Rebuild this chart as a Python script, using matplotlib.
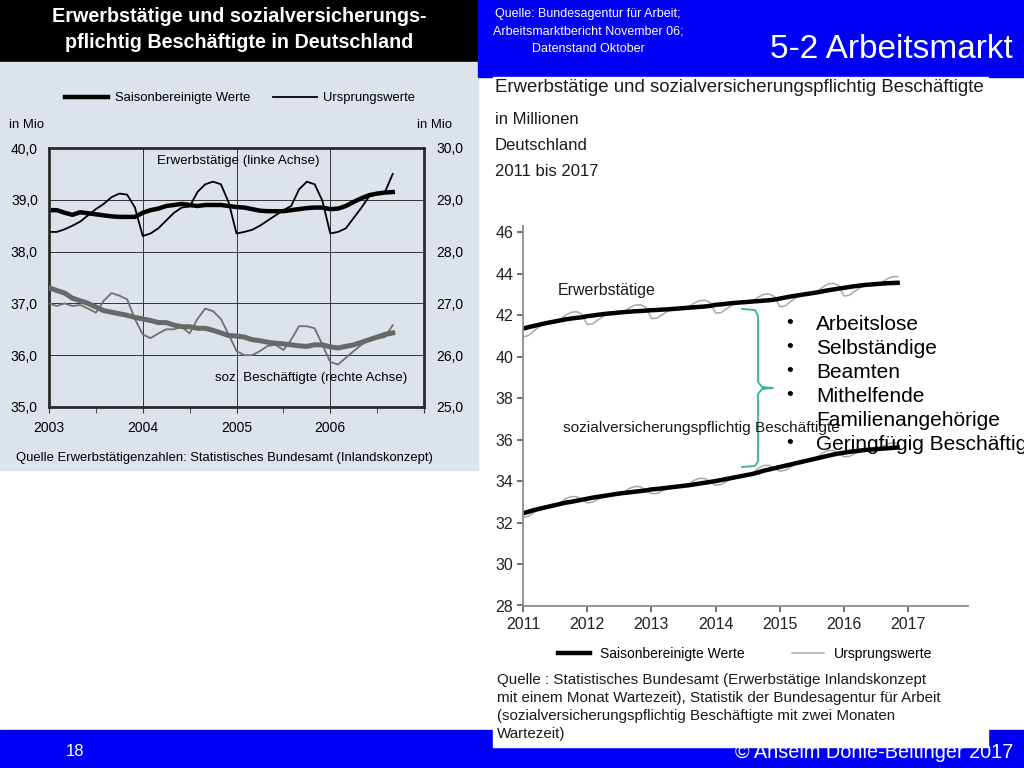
import numpy as np
import matplotlib.pyplot as plt
from matplotlib.patches import Rectangle
from matplotlib.lines import Line2D

plt.rcParams['font.family'] = ['Liberation Sans', 'DejaVu Sans']

# ---- left chart (2003 - Sep 2006, monthly), values in Mio
erw_sa_0306 = [38.80, 38.80, 38.75, 38.71, 38.76, 38.74, 38.72, 38.70, 38.68, 38.67, 38.67, 38.67,
               38.75, 38.80, 38.83, 38.88, 38.90, 38.92, 38.90, 38.88, 38.90, 38.90, 38.90, 38.88,
               38.86, 38.85, 38.82, 38.79, 38.78, 38.78, 38.78, 38.80, 38.82, 38.84, 38.85, 38.85,
               38.82, 38.83, 38.88, 38.96, 39.03, 39.09, 39.12, 39.14, 39.15]
erw_orig_0306 = [38.38, 38.38, 38.43, 38.50, 38.58, 38.70, 38.82, 38.92, 39.05, 39.12, 39.10, 38.85,
                 38.30, 38.35, 38.45, 38.60, 38.75, 38.85, 38.87, 39.15, 39.30, 39.35, 39.30, 38.95,
                 38.35, 38.38, 38.42, 38.50, 38.60, 38.70, 38.80, 38.88, 39.20, 39.35, 39.30, 38.98,
                 38.35, 38.38, 38.45, 38.65, 38.85, 39.07, 39.12, 39.15, 39.50]
soz_sa_0306 = [27.30, 27.25, 27.20, 27.10, 27.05, 27.00, 26.93, 26.86, 26.83, 26.80, 26.77, 26.73,
               26.70, 26.67, 26.63, 26.63, 26.58, 26.55, 26.55, 26.52, 26.52, 26.48, 26.43, 26.38,
               26.37, 26.35, 26.30, 26.28, 26.25, 26.23, 26.22, 26.20, 26.18, 26.17, 26.20, 26.20,
               26.16, 26.14, 26.17, 26.20, 26.25, 26.30, 26.35, 26.40, 26.43]
soz_orig_0306 = [27.00, 26.95, 27.00, 26.95, 26.97, 26.90, 26.82, 27.05, 27.20, 27.15, 27.08, 26.70,
                 26.40, 26.33, 26.42, 26.50, 26.50, 26.55, 26.42, 26.70, 26.90, 26.85, 26.70, 26.40,
                 26.08, 26.00, 26.00, 26.08, 26.18, 26.20, 26.10, 26.30, 26.56, 26.56, 26.52, 26.20,
                 25.87, 25.82, 25.95, 26.08, 26.20, 26.30, 26.32, 26.35, 26.58]
years_left = [2003, 2004, 2005, 2006]
left_ticks = [35, 36, 37, 38, 39, 40]

# ---- right chart (Jan 2011 - Nov 2016, monthly), values in Millionen
erw_sa_1116 = [41.35, 41.42, 41.48, 41.54, 41.60, 41.65, 41.70, 41.75, 41.80, 41.84, 41.87, 41.90,
               41.95, 41.98, 42.02, 42.05, 42.08, 42.10, 42.13, 42.15, 42.17, 42.19, 42.20, 42.22,
               42.24, 42.25, 42.27, 42.28, 42.30, 42.32, 42.34, 42.36, 42.38, 42.40, 42.42, 42.45,
               42.50, 42.52, 42.55, 42.58, 42.60, 42.62, 42.64, 42.66, 42.68, 42.70, 42.72, 42.75,
               42.80, 42.85, 42.90, 42.94, 42.98, 43.02, 43.06, 43.10, 43.15, 43.20, 43.24, 43.28,
               43.32, 43.36, 43.40, 43.43, 43.46, 43.48, 43.50, 43.52, 43.54, 43.55, 43.56]
erw_orig_1116 = [40.95, 41.02, 41.23, 41.44, 41.60, 41.70, 41.70, 41.80, 42.00, 42.14, 42.17, 42.05,
                 41.55, 41.58, 41.77, 41.95, 42.08, 42.15, 42.13, 42.20, 42.37, 42.49, 42.50, 42.37,
                 41.84, 41.85, 42.02, 42.18, 42.30, 42.37, 42.34, 42.41, 42.58, 42.70, 42.72, 42.60,
                 42.10, 42.12, 42.30, 42.48, 42.60, 42.67, 42.64, 42.71, 42.88, 43.00, 43.02, 42.90,
                 42.40, 42.45, 42.65, 42.84, 42.98, 43.07, 43.06, 43.15, 43.35, 43.50, 43.54, 43.43,
                 42.92, 42.96, 43.15, 43.33, 43.46, 43.53, 43.50, 43.57, 43.74, 43.85, 43.86]
soz_sa_1116 = [32.45, 32.52, 32.60, 32.66, 32.72, 32.78, 32.84, 32.90, 32.96, 33.00, 33.05, 33.10,
               33.15, 33.20, 33.24, 33.28, 33.32, 33.36, 33.40, 33.43, 33.46, 33.49, 33.52, 33.55,
               33.60, 33.62, 33.65, 33.68, 33.71, 33.74, 33.77, 33.80, 33.84, 33.88, 33.92, 33.96,
               34.00, 34.05, 34.10, 34.15, 34.20, 34.25, 34.30, 34.35, 34.42, 34.50, 34.56, 34.62,
               34.68, 34.74, 34.80, 34.86, 34.92, 34.98, 35.04, 35.10, 35.16, 35.22, 35.28, 35.33,
               35.37, 35.41, 35.44, 35.47, 35.50, 35.52, 35.54, 35.56, 35.58, 35.60, 35.62]
soz_orig_1116 = [32.25, 32.30, 32.48, 32.61, 32.72, 32.80, 32.82, 32.95, 33.16, 33.25, 33.25, 33.10,
                 32.95, 32.98, 33.12, 33.23, 33.32, 33.38, 33.38, 33.48, 33.66, 33.74, 33.72, 33.55,
                 33.40, 33.40, 33.53, 33.63, 33.71, 33.76, 33.75, 33.85, 34.04, 34.13, 34.12, 33.96,
                 33.80, 33.83, 33.98, 34.10, 34.20, 34.27, 34.28, 34.40, 34.62, 34.75, 34.76, 34.62,
                 34.48, 34.52, 34.68, 34.81, 34.92, 35.00, 35.02, 35.15, 35.36, 35.47, 35.48, 35.33,
                 35.17, 35.19, 35.32, 35.42, 35.50, 35.54, 35.52, 35.61, 35.78, 35.85, 35.82]
years_right = [2011, 2012, 2013, 2014, 2015, 2016, 2017]
right_ticks = [28, 30, 32, 34, 36, 38, 40, 42, 44, 46]

bullets = ['Arbeitslose', 'Selbständige', 'Beamten', 'Mithelfende', 'Familienangehörige',
           'Geringfügig Beschäftigte']
bullet_marks = [True, True, True, True, False, True]

quelle_lines = ['Quelle : Statistisches Bundesamt (Erwerbstätige Inlandskonzept',
                'mit einem Monat Wartezeit), Statistik der Bundesagentur für Arbeit',
                '(sozialversicherungspflichtig Beschäftigte mit zwei Monaten',
                'Wartezeit)']

BLUE = '#0000f5'
PANEL = '#dde3ea'

W, H = 1024, 768
def fx(x):
    return x / W
def fy(y):
    return 1 - y / H

fig = plt.figure(figsize=(10.24, 7.68), dpi=100)
fig.patch.set_facecolor('white')

# background blocks
fig.add_artist(Rectangle((0, fy(62)), fx(478), 62 / H, color='black', zorder=0.1))
fig.add_artist(Rectangle((0, fy(470)), fx(478), 408 / H, color=PANEL, zorder=0.1))
fig.add_artist(Rectangle((fx(478), fy(77)), 1 - fx(478), 77 / H, color=BLUE, zorder=0.1))
fig.add_artist(Rectangle((0, 0), 1, 38 / H, color=BLUE, zorder=0.1))
fig.text(fx(75), fy(751), '18', color='white', fontsize=12, ha='center', va='center', zorder=0.2)
fig.text(fx(1013), fy(752), '© Anselm Dohle-Beltinger 2017', color='white', fontsize=14.3,
         ha='right', va='center', zorder=0.2)
fig.add_artist(Rectangle((fx(493), fy(747)), fx(988) - fx(493), 670 / H, color='white', zorder=0.3))

# header texts
fig.text(fx(239), fy(17), 'Erwerbstätige und sozialversicherungs-', color='white',
         fontsize=14.2, fontweight='bold', ha='center', va='center')
fig.text(fx(239), fy(42), 'pflichtig Beschäftigte in Deutschland', color='white',
         fontsize=14.2, fontweight='bold', ha='center', va='center')
for i, t in enumerate(['Quelle: Bundesagentur für Arbeit;', 'Arbeitsmarktbericht November 06;',
                       'Datenstand Oktober']):
    fig.text(fx(588), fy(14 + 17.5 * i), t, color='white', fontsize=9, ha='center', va='center')
fig.text(fx(1013), fy(50), '5-2 Arbeitsmarkt', color='white', fontsize=24, ha='right', va='center')

# ---------------- left chart
x_left = 2003 + np.arange(len(erw_sa_0306)) / 12
axL = fig.add_axes([fx(49), fy(407), 375 / W, 259 / H], zorder=1)
axL.set_facecolor('none')
l_orig, = axL.plot(x_left, erw_orig_0306, color='black', lw=1.3)
l_sa, = axL.plot(x_left, erw_sa_0306, color='black', lw=3.2)
axL.set_xlim(2003, 2007)
axL.set_ylim(35, 40)
axL.set_yticks(left_ticks)
axL.set_yticklabels([f'{v:.1f}'.replace('.', ',') for v in left_ticks], fontsize=10)
axL.set_xticks(years_left + [2007])
axL.set_xticklabels([str(y) for y in years_left] + [''], fontsize=10)
axL.set_xticks([2003.5, 2004.5, 2005.5, 2006.5], minor=True)
axL.grid(True, which='major', color='#333333', lw=0.7)
axL.tick_params(axis='y', length=0, pad=8)
axL.tick_params(axis='x', which='both', direction='out', length=4, pad=6, color='#333333')
for s in axL.spines.values():
    s.set_linewidth(2)
    s.set_color('#2a2a2a')

axL2 = axL.twinx()
axL2.plot(x_left, soz_orig_0306, color='#707070', lw=1.3)
axL2.plot(x_left, soz_sa_0306, color='#686868', lw=3.6)
axL2.set_ylim(25, 30)
axL2.set_yticks([v - 10 for v in left_ticks])
axL2.set_yticklabels([f'{v - 10:.1f}'.replace('.', ',') for v in left_ticks], fontsize=10)
axL2.tick_params(axis='y', length=0, pad=9)
for s in axL2.spines.values():
    s.set_visible(False)

axL.legend(handles=[l_sa, l_orig], labels=['Saisonbereinigte Werte', 'Ursprungswerte'],
           loc='center', bbox_to_anchor=(fx(240), fy(98)), bbox_transform=fig.transFigure,
           ncol=2, frameon=False, fontsize=9.4, handlelength=3.3, handletextpad=0.5,
           columnspacing=1.8)
fig.text(fx(9), fy(125), 'in Mio', fontsize=9.4, va='center')
fig.text(fx(417), fy(125), 'in Mio', fontsize=9.4, va='center')
fig.text(fx(238), fy(161), 'Erwerbstätige (linke Achse)', fontsize=9.6, ha='center', va='center')
fig.text(fx(311), fy(378), 'soz. Beschäftigte (rechte Achse)', fontsize=9.6, ha='center', va='center')
fig.text(fx(16), fy(458), 'Quelle Erwerbstätigenzahlen: Statistisches Bundesamt (Inlandskonzept)',
         fontsize=9.4, va='center')

# ---------------- right chart
fig.text(fx(495), fy(88), 'Erwerbstätige und sozialversicherungspflichtig Beschäftigte',
         fontsize=13.4, va='center', color='#1a1a1a')
fig.text(fx(495), fy(120), 'in Millionen', fontsize=12, va='center', color='#1a1a1a')
fig.text(fx(495), fy(146), 'Deutschland', fontsize=12, va='center', color='#1a1a1a')
fig.text(fx(495), fy(171), '2011 bis 2017', fontsize=12, va='center', color='#1a1a1a')

x_right = 2011 + np.arange(len(erw_sa_1116)) / 12
axR = fig.add_axes([fx(523), fy(605.5), 445 / W, 379.5 / H], zorder=1)
axR.set_facecolor('none')
r_orig, = axR.plot(x_right, erw_orig_1116, color='#a8a8a8', lw=1.1)
axR.plot(x_right, soz_orig_1116, color='#a8a8a8', lw=1.1)
r_sa, = axR.plot(x_right, erw_sa_1116, color='black', lw=3.2)
axR.plot(x_right, soz_sa_1116, color='black', lw=3.2)
axR.set_xlim(2011, 2017.93)
axR.set_ylim(28, 46.3)
axR.set_xticks(years_right)
axR.set_xticklabels([str(y) for y in years_right], fontsize=11.5, color='#222222')
axR.set_yticks(right_ticks)
axR.set_yticklabels([str(v) for v in right_ticks], fontsize=11.5, color='#222222')
axR.spines['top'].set_visible(False)
axR.spines['right'].set_visible(False)
for s in ['left', 'bottom']:
    axR.spines[s].set_color('#8c8c8c')
    axR.spines[s].set_linewidth(1.3)
axR.tick_params(axis='both', direction='out', length=4, color='#555555', width=1.2)
axR.tick_params(axis='x', pad=4)
axR.tick_params(axis='y', pad=3)

axR.legend(handles=[r_sa, r_orig], labels=['Saisonbereinigte Werte', 'Ursprungswerte'],
           loc='center', bbox_to_anchor=(fx(745), fy(654)), bbox_transform=fig.transFigure,
           ncol=2, frameon=False, fontsize=10, handlelength=2.3, handletextpad=0.7,
           columnspacing=3.4)
for i, t in enumerate(quelle_lines):
    fig.text(fx(497), fy(680 + 18 * i), t, fontsize=10.9, va='center', color='#1a1a1a', zorder=3)

fig.text(fx(558), fy(291), 'Erwerbstätige', fontsize=11.5, va='center', color='#1a1a1a')
fig.text(fx(563), fy(428), 'sozialversicherungspflichtig Beschäftigte', fontsize=11.1,
         va='center', color='#1a1a1a', zorder=3)

# bracket
bx = [742, 755, 758, 758, 762, 773, 762, 758, 758, 755, 742]
by = [309, 310, 316, 382, 387, 388, 389, 394, 461, 466, 467]
fig.add_artist(Line2D([fx(v) for v in bx], [fy(v) for v in by], color='#2fb59c', lw=1.3, zorder=3))

for i, (t, m) in enumerate(zip(bullets, bullet_marks)):
    yy = fy(324 + 24 * i)
    if m:
        fig.text(fx(790), yy, '•', fontsize=14, ha='center', va='center', zorder=4)
    fig.text(fx(816), yy, t, fontsize=15, va='center', zorder=4)

fig.savefig('out.png', dpi=100)
